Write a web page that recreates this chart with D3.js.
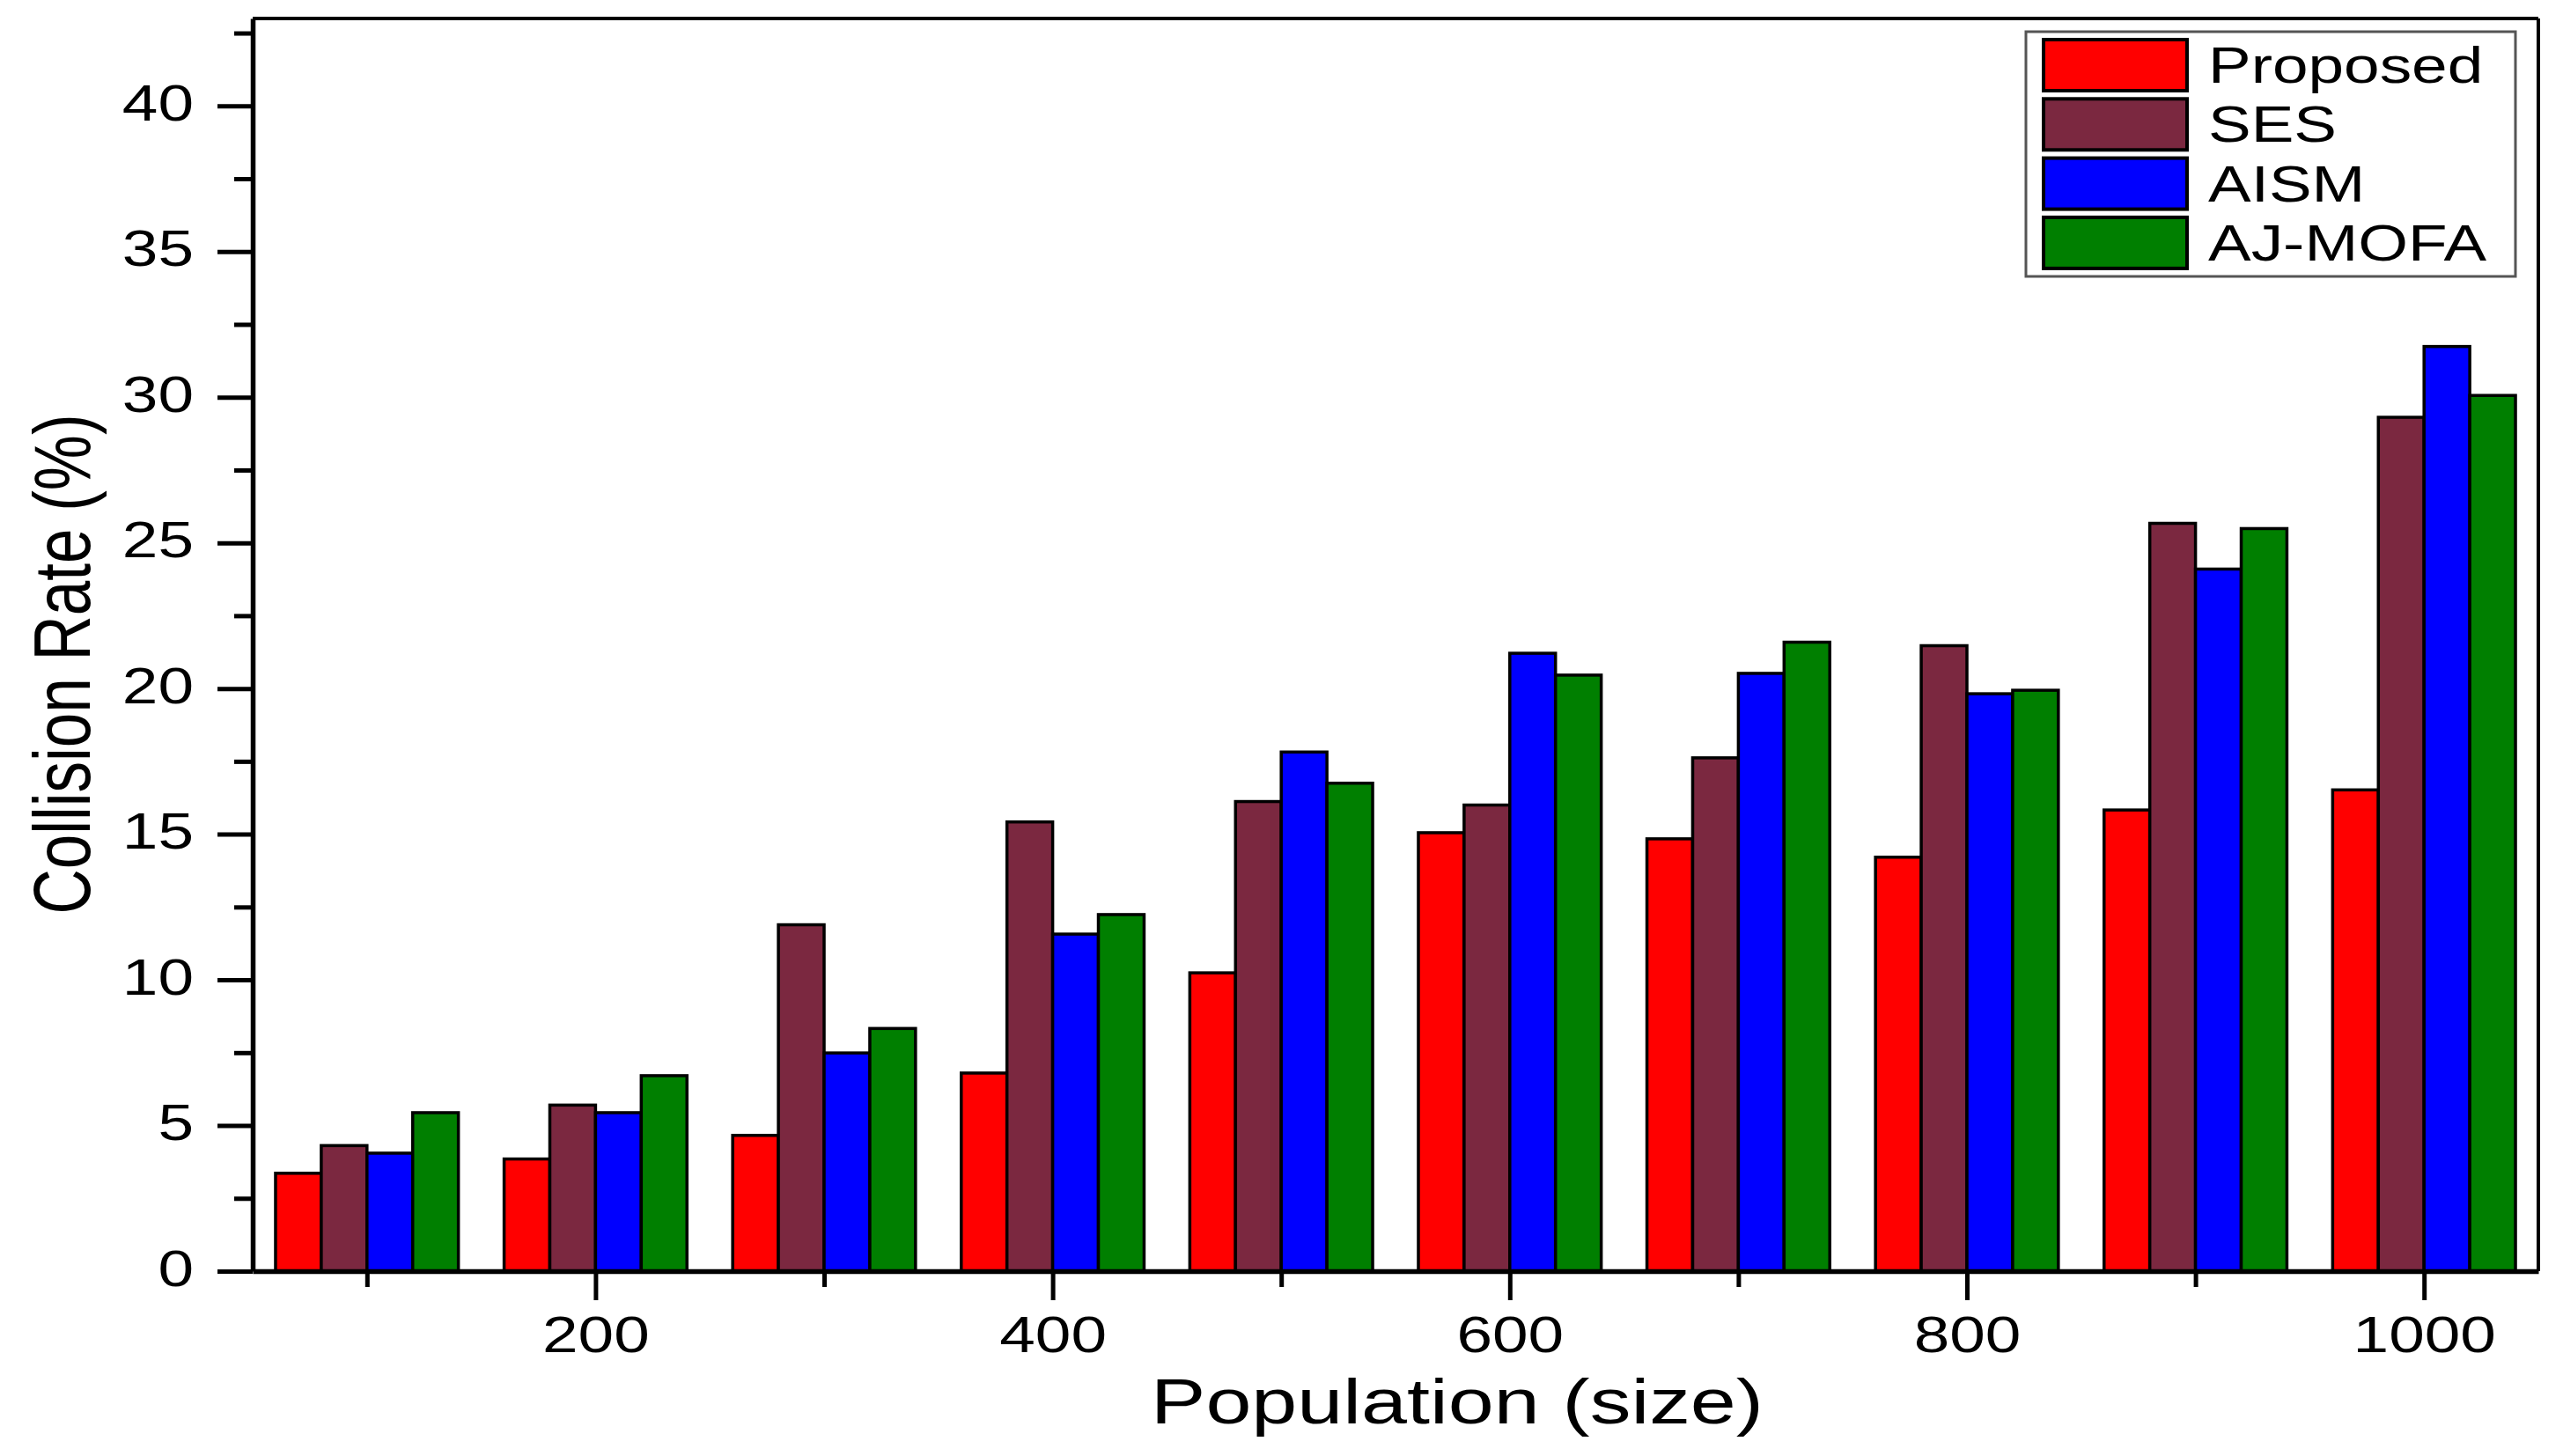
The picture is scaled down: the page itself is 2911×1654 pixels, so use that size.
<!DOCTYPE html>
<html><head><meta charset="utf-8">
<script src="https://cdn.jsdelivr.net/npm/d3@7"></script>
<style>body{margin:0;background:#fff}svg{display:block}</style>
</head><body>
<svg id="c" width="2911" height="1654"></svg>
<script>
const categories = [100, 200, 300, 400, 500, 600, 700, 800, 900, 1000];
const seriesNames = ["Proposed", "SES", "AISM", "AJ-MOFA"];
const proposed = [3.36, 3.85, 4.66, 6.80, 10.24, 15.05, 14.84, 14.21, 15.83, 16.52];
const ses      = [4.31, 5.70, 11.89, 15.42, 16.12, 16.00, 17.62, 21.47, 25.67, 29.31];
const aism     = [4.05, 5.44, 7.49, 11.57, 17.82, 21.21, 20.52, 19.82, 24.10, 31.74];
const ajmofa   = [5.44, 6.71, 8.33, 12.24, 16.75, 20.46, 21.59, 19.94, 25.49, 30.06];
const seriesColors = ["#ff0000", "#7b2840", "#0000ff", "#007f00"];
const xMajorTicks = [200, 400, 600, 800, 1000];
const xMinorTicks = [100, 300, 500, 700, 900];
const yMajorTicks = [0, 5, 10, 15, 20, 25, 30, 35, 40];
const yMinorTicks = [2.5, 7.5, 12.5, 17.5, 22.5, 27.5, 32.5, 37.5, 42.5];
const xLabel = "Population (size)";
const yLabel = "Collision Rate (%)";

const seriesValues = [proposed, ses, aism, ajmofa];
const FONT = "'Liberation Sans', Arial, Helvetica, sans-serif";
const SX = 1.28; // horizontal stretch of the original figure's text

const svg = d3.select("#c");
const margin = {left: 287, right: 2883, top: 21, bottom: 1444};
const x = d3.scaleLinear().domain([50, 1050]).range([margin.left, margin.right]);
const y = d3.scaleLinear().domain([0, 43]).range([margin.bottom, margin.top]);
const barUnits = 20;

// bars
const data = [];
categories.forEach((c, ci) => {
  seriesValues.forEach((vals, si) => {
    data.push({c, si, v: vals[ci]});
  });
});
svg.append("g").selectAll("rect").data(data).join("rect")
  .attr("x", d => x(d.c + (d.si - 2) * barUnits))
  .attr("width", d => x(d.c + (d.si - 1) * barUnits) - x(d.c + (d.si - 2) * barUnits))
  .attr("y", d => y(d.v))
  .attr("height", d => y(0) - y(d.v))
  .attr("fill", d => seriesColors[d.si])
  .attr("stroke", "#000")
  .attr("stroke-width", 3.5);

// top and right frame
svg.append("line").attr("x1", x(50)).attr("x2", x(1050)).attr("y1", y(43)).attr("y2", y(43))
  .attr("stroke", "#000").attr("stroke-width", 4);
svg.append("line").attr("x1", x(1050)).attr("x2", x(1050)).attr("y1", y(43)).attr("y2", y(0))
  .attr("stroke", "#000").attr("stroke-width", 4);

// x axis
const gx = svg.append("g").attr("transform", `translate(0,${y(0)})`)
  .call(d3.axisBottom(x).tickValues(xMajorTicks).tickSize(33).tickSizeOuter(0).tickPadding(0).tickFormat(d3.format("d")));
gx.select(".domain").attr("stroke-width", 5.5);
gx.selectAll(".tick line").attr("stroke-width", 5);
gx.selectAll(".tick text").attr("y", 0).attr("dy", null)
  .attr("transform", `translate(0,92) scale(${SX},1)`)
  .attr("font-size", 57).attr("font-family", FONT).attr("fill", "#000");
const gxm = svg.append("g").attr("transform", `translate(0,${y(0)})`)
  .call(d3.axisBottom(x).tickValues(xMinorTicks).tickSize(18).tickSizeOuter(0).tickFormat(""));
gxm.select(".domain").remove();
gxm.selectAll(".tick line").attr("stroke-width", 5);

// y axis
const gy = svg.append("g").attr("transform", `translate(${x(50)},0)`)
  .call(d3.axisLeft(y).tickValues(yMajorTicks).tickSize(40).tickSizeOuter(0).tickPadding(0).tickFormat(d3.format("d")));
gy.select(".domain").attr("stroke-width", 5.5);
gy.selectAll(".tick line").attr("stroke-width", 5);
gy.selectAll(".tick text").attr("x", 0).attr("dy", null).attr("y", 0)
  .attr("transform", `translate(-67,16) scale(${SX},1)`)
  .attr("text-anchor", "end")
  .attr("font-size", 57).attr("font-family", FONT).attr("fill", "#000");
const gym = svg.append("g").attr("transform", `translate(${x(50)},0)`)
  .call(d3.axisLeft(y).tickValues(yMinorTicks).tickSize(21).tickSizeOuter(0).tickFormat(""));
gym.select(".domain").remove();
gym.selectAll(".tick line").attr("stroke-width", 5);

// axis titles
svg.append("text")
  .attr("transform", `translate(1655,1617) scale(${SX},1)`)
  .attr("text-anchor", "middle").attr("font-size", 73).attr("font-family", FONT).attr("fill", "#000")
  .text(xLabel);
svg.append("text")
  .attr("transform", `translate(102,${(y(0) + y(43)) / 2 + 22}) scale(${SX},1) rotate(-90)`)
  .attr("text-anchor", "middle").attr("font-size", 71).attr("font-family", FONT).attr("fill", "#000")
  .text(yLabel);

// legend
const lg = svg.append("g");
lg.append("rect").attr("x", 2301).attr("y", 36).attr("width", 556).attr("height", 278)
  .attr("fill", "#fff").attr("stroke", "#555").attr("stroke-width", 3);
const items = lg.selectAll("g.item").data(seriesNames).join("g")
  .attr("transform", (d, i) => `translate(2321,${45 + i * 67.3})`);
items.append("rect").attr("x", 0).attr("y", 0).attr("width", 163).attr("height", 58)
  .attr("fill", (d, i) => seriesColors[i]).attr("stroke", "#000").attr("stroke-width", 4);
items.append("text")
  .attr("transform", `translate(187,49) scale(${SX},1)`)
  .attr("font-size", 57).attr("font-family", FONT).attr("fill", "#000")
  .text(d => d);
</script>
</body></html>
